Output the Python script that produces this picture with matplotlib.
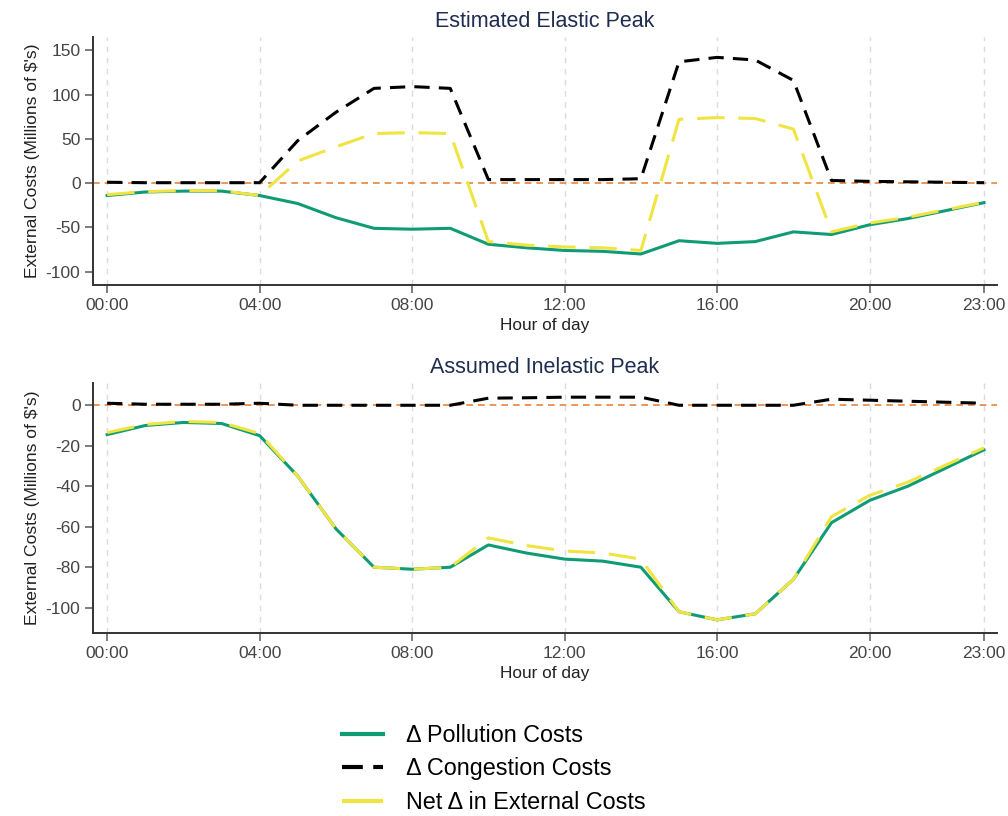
import numpy as np
import matplotlib.pyplot as plt
from matplotlib.lines import Line2D

plt.rcParams['font.family'] = ['Liberation Sans', 'DejaVu Sans']
plt.rcParams['axes.unicode_minus'] = False

hours = list(range(24))
tick_hours = [0, 4, 8, 12, 16, 20, 23]
tick_labels = ['00:00', '04:00', '08:00', '12:00', '16:00', '20:00', '23:00']

# Estimated elastic peak
poll_el = [-14, -10, -9, -9, -14, -23, -39, -51, -52, -51, -69, -73, -76, -77, -80,
           -65, -68, -66, -55, -58, -47, -40, -31, -22]
cong_el = [1, 0.5, 0.5, 0.5, 0.5, 48, 80, 107, 109, 107, 4, 4, 4, 4, 5,
           137, 142, 139, 116, 3, 2, 1.5, 1, 0.5]
net_el = [-13, -9.5, -8.5, -8.5, -14, 25, 41, 56, 57, 56, -66, -70, -72, -73, -76,
          72, 74, 73, 61, -55, -45, -38.5, -30, -21.5]

# Assumed inelastic peak
poll_in = [-14.5, -10, -8.5, -9, -15, -35, -61, -80, -81, -80, -69, -73, -76, -77, -80,
           -102, -106, -103, -86, -58, -47, -40, -31, -22]
cong_in = [1, 0.5, 0.5, 0.5, 1, 0, 0, 0, 0, 0, 3.5, 3.7, 4, 4, 4,
           0, 0, 0, 0, 3, 2.5, 2, 1.5, 1]
net_in = [-13.5, -9.5, -8, -8.5, -14, -35, -61, -80, -81, -80, -65.5, -69.3, -72, -73, -76,
          -102, -106, -103, -86, -55, -44.5, -38, -29.5, -21]

GREEN = '#0f9b74'
YELLOW = '#f0e442'
ORANGE = '#e8843c'
TITLE_C = '#1f2d50'

fig = plt.figure(figsize=(10.08, 8.16), dpi=100)
ax1 = fig.add_axes([93/1008, 1-285/816, 904/1008, 248/816])
ax2 = fig.add_axes([93/1008, 1-633/816, 904/1008, 250/816])


def panel(ax, poll, cong, net, title, ylim, yticks):
    for h in tick_hours:
        ax.axvline(h, color='#d8dbe4', lw=1, ls=(0, (4, 4)), zorder=0)
    ax.axhline(0, color=ORANGE, lw=1.2, ls=(0, (4, 3)), zorder=1)
    ax.plot(hours, poll, color=GREEN, lw=2.2, zorder=2)
    ax.plot(hours, cong, color='black', lw=2.2, ls=(0, (5, 3)), zorder=3)
    ax.plot(hours, net, color=YELLOW, lw=2.2, ls=(0, (9, 4.5)), zorder=4)
    ax.set_xlim(-0.37, 23.34)
    ax.set_ylim(*ylim)
    ax.set_yticks(yticks)
    ax.set_xticks(tick_hours)
    ax.set_xticklabels(tick_labels)
    ax.spines['top'].set_visible(False)
    ax.spines['right'].set_visible(False)
    for s in ['left', 'bottom']:
        ax.spines[s].set_color('#333333')
        ax.spines[s].set_linewidth(1.4)
    ax.tick_params(axis='both', colors='#666666', labelcolor='#444444',
                   labelsize=12.5, length=6, width=1.2, pad=3)
    ax.set_title(title, color=TITLE_C, fontsize=15.5, pad=7)
    ax.set_xlabel('Hour of day', fontsize=12.4, color='#222222', labelpad=4)
    ax.set_ylabel("External Costs (Millions of $'s)", fontsize=12.6,
                  color='#222222', labelpad=4)


panel(ax1, poll_el, cong_el, net_el, 'Estimated Elastic Peak', (-115, 165),
      [-100, -50, 0, 50, 100, 150])
panel(ax2, poll_in, cong_in, net_in, 'Assumed Inelastic Peak', (-112.5, 11),
      [-100, -80, -60, -40, -20, 0])

handles = [Line2D([], [], color=GREEN, lw=3),
           Line2D([], [], color='black', lw=3, ls=(0, (5, 2.5))),
           Line2D([], [], color=YELLOW, lw=3, ls=(0, (11, 6)))]
labels = ['Δ Pollution Costs', 'Δ Congestion Costs', 'Net Δ in External Costs']
fig.legend(handles, labels, loc='center', bbox_to_anchor=(0.49, 1-769/816),
           frameon=False, fontsize=16.8, handlelength=1.75, labelspacing=0.45,
           handletextpad=1.0)

fig.savefig('out.png', dpi=100)
